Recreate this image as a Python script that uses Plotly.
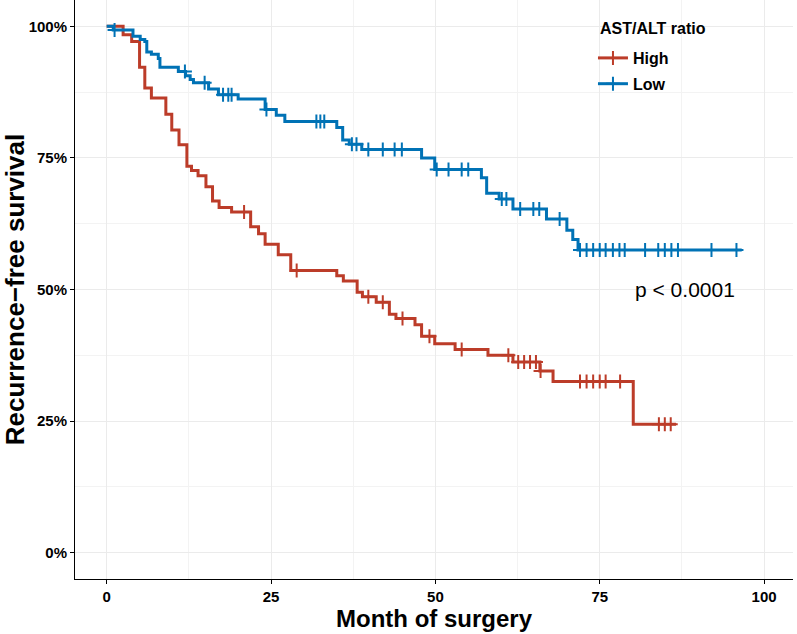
import numpy as np
import plotly.graph_objects as go

# ---- data ----
high_time = [0, 2.5, 3.8, 5.0, 5.8, 6.8, 9.0, 9.9, 11.0, 12.2, 12.9, 13.9, 15.1, 16.1, 17.1, 19.0,
             21.9, 23.1, 24.1, 26.1, 28.0, 35.0, 36.0, 38.1, 38.9, 41.0, 43.0, 44.0, 46.9, 47.9,
             49.9, 53.0, 58.0, 61.8, 65.9, 67.9, 80.1]
high_surv = [1.0, 0.984, 0.971, 0.922, 0.883, 0.864, 0.833, 0.803, 0.775, 0.734, 0.726, 0.716, 0.695,
             0.668, 0.656, 0.647, 0.619, 0.606, 0.586, 0.566, 0.536, 0.526, 0.516, 0.495, 0.486,
             0.476, 0.453, 0.445, 0.433, 0.411, 0.397, 0.386, 0.375, 0.3625, 0.345, 0.325, 0.244]
high_end = 86.6
high_censor = [20.9, 28.9, 39.8, 42.0, 45.0, 49.1, 54.0, 61.1, 62.6, 63.5, 64.4, 65.3, 66.0,
               72.0, 73.0, 74.0, 75.0, 75.9, 78.1, 84.0, 84.9, 85.8]

low_time = [0, 1.0, 4.0, 5.1, 5.8, 6.1, 6.8, 7.85, 8.1, 10.9, 12.0, 12.7, 13.2, 15.5, 17.0, 20.0,
            24.1, 25.8, 27.1, 35.0, 35.9, 36.9, 38.8, 47.9, 49.9, 57.0, 57.8, 59.7, 61.8, 66.9,
            70.0, 70.9, 71.7]
low_surv = [1.0, 0.993, 0.981, 0.975, 0.971, 0.951, 0.947, 0.939, 0.922, 0.914, 0.906, 0.899, 0.893,
            0.881, 0.870, 0.862, 0.842, 0.831, 0.819, 0.808, 0.784, 0.776, 0.766, 0.750, 0.728,
            0.7125, 0.683, 0.672, 0.653, 0.634, 0.6125, 0.595, 0.575]
low_end = 96.6
low_censor = [1.2, 11.9, 14.9, 17.7, 18.5, 19.0, 24.3, 31.9, 32.5, 33.1, 37.3, 38.0, 39.8, 42.0,
              43.8, 44.9, 50.2, 52.0, 54.0, 55.0, 60.1, 60.8, 62.9, 64.9, 65.8, 68.9, 72.0, 73.0,
              74.0, 75.0, 75.9, 77.0, 78.0, 78.8, 81.9, 83.9, 84.9, 85.9, 86.9, 92.0, 95.8]

groups = ["High", "Low"]
colors = ["#BC3C29", "#0072B5"]
legend_title = "AST/ALT ratio"
x_ticks = [0, 25, 50, 75, 100]
y_ticks = [0, 0.25, 0.5, 0.75, 1.0]
y_tick_text = ["0%", "25%", "50%", "75%", "100%"]
pval_text = "p < 0.0001"

FONT = "Liberation Sans, Arial, sans-serif"
PLOT_H = 634 - 55  # plot-area height in px (for paper-coordinate placement)


def surv_at(times, surv, t):
    idx = np.searchsorted(np.asarray(times), np.asarray(t), side="right") - 1
    return np.asarray(surv)[idx]


def py(px):
    return 1 - px / PLOT_H


fig = go.Figure()
series = [(high_time, high_surv, high_end, high_censor), (low_time, low_surv, low_end, low_censor)]
for (t, s, end, cens), name, col in zip(series, groups, colors):
    fig.add_trace(go.Scatter(x=list(t) + [end], y=list(s) + [s[-1]], mode="lines",
                             line=dict(color=col, width=3, shape="hv"),
                             showlegend=False, hoverinfo="skip"))
    fig.add_trace(go.Scatter(x=cens, y=surv_at(t, s, cens), mode="markers",
                             marker=dict(symbol="cross-thin", size=10,
                                         line=dict(color=col, width=2)),
                             showlegend=False, hoverinfo="skip"))
    # legend entry
    fig.add_trace(go.Scatter(x=[None], y=[None], mode="lines+markers", name=name, legendgroup=name,
                             line=dict(color=col, width=3),
                             marker=dict(symbol="cross-thin", size=10,
                                         line=dict(color=col, width=2))))

# white legend box covering the grid
fig.add_shape(type="rect", xref="paper", yref="paper", x0=0.717, x1=0.891, y0=py(100), y1=py(5),
              fillcolor="white", line=dict(width=0), layer="between")

fig.add_annotation(xref="paper", yref="paper", x=0.728, y=py(28), text=legend_title, showarrow=False,
                   xanchor="left", yanchor="middle",
                   font=dict(family=FONT, size=16, color="black", weight="bold"))

fig.add_annotation(x=88, y=0.5, text=pval_text, showarrow=False, xanchor="center", yanchor="middle",
                   font=dict(family=FONT, size=21, color="black"))

axis_common = dict(showline=True, linecolor="black", linewidth=1, ticks="outside", ticklen=4,
                   tickcolor="black", tickwidth=1, showgrid=True, gridcolor="#EBEBEB", gridwidth=1.2,
                   zeroline=False,
                   tickfont=dict(family=FONT, size=15, color="black", weight="bold"))

fig.update_layout(
    width=797, height=634,
    margin=dict(l=75, r=4, t=0, b=55),
    plot_bgcolor="white", paper_bgcolor="white",
    xaxis=dict(range=[-4.82, 104.4], tickvals=x_ticks, ticktext=[str(v) for v in x_ticks],
               minor=dict(dtick=12.5, tick0=0, showgrid=True, gridcolor="#F3F3F3", gridwidth=0.8, ticks=""),
               title=dict(text="Month of surgery", standoff=4,
                          font=dict(family=FONT, size=24, color="black", weight="bold")),
               automargin=False, **axis_common),
    yaxis=dict(range=[-0.05, 1.05], tickvals=y_ticks, ticktext=y_tick_text,
               minor=dict(dtick=0.125, tick0=0, showgrid=True, gridcolor="#F3F3F3", gridwidth=0.8, ticks=""),
               title=dict(text="Recurrence\u2212free survival", standoff=2,
                          font=dict(family=FONT, size=26, color="black", weight="bold")),
               automargin=False, **axis_common),
    legend=dict(x=0.7214, y=py(41), xanchor="left", yanchor="top", bgcolor="rgba(0,0,0,0)",
                font=dict(family=FONT, size=16, color="black", weight="bold"),
                tracegroupgap=2, itemwidth=30),
)

fig.write_html("out.html", config={"displayModeBar": False},
               post_script="document.body.style.margin='0px';")
